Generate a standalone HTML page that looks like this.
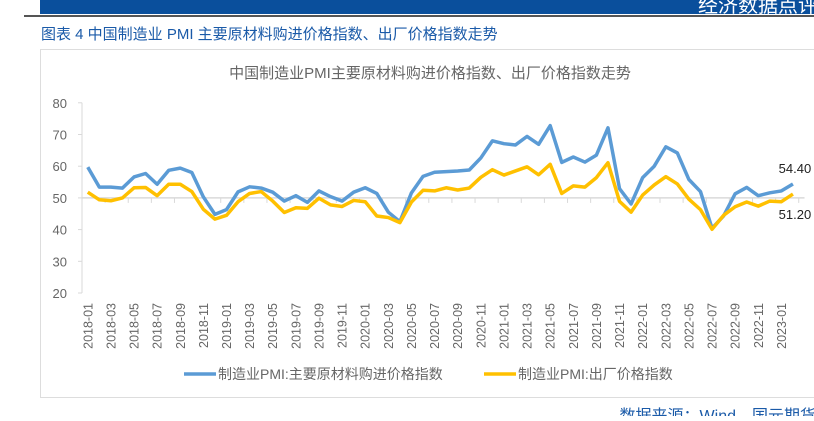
<!DOCTYPE html>
<html><head><meta charset="utf-8"><style>
body{margin:0;width:814px;height:416px;background:#fff;overflow:hidden;font-family:"Liberation Sans","Noto Sans CJK SC",sans-serif;}
</style></head><body>
<svg width="814" height="416" xmlns="http://www.w3.org/2000/svg" font-family="Liberation Sans, Noto Sans CJK SC, sans-serif">
<rect x="40" y="0" width="774" height="14" fill="#0a4f9c"/>
<text x="818" y="12" font-size="20" fill="#fff" text-anchor="end">经济数据点评</text>
<rect x="24" y="15" width="790" height="2" fill="#555"/>
<text x="41" y="39" font-size="15" fill="#1a5aa8">图表 4  中国制造业 PMI 主要原材料购进价格指数、出厂价格指数走势</text>
<rect x="40.5" y="49.5" width="790" height="348" fill="none" stroke="#ddd"/>
<text x="430" y="78" font-size="15" fill="#666" text-anchor="middle">中国制造业PMI主要原材料购进价格指数、出厂价格指数走势</text>
<g id="plot"></g>
<g>
<line x1="184" y1="374" x2="216" y2="374" stroke="#5b9bd5" stroke-width="3.5"/>
<text x="218" y="379" font-size="14" fill="#666">制造业PMI:主要原材料购进价格指数</text>
<line x1="484" y1="374" x2="516" y2="374" stroke="#ffc000" stroke-width="3.5"/>
<text x="518" y="379" font-size="14" fill="#666">制造业PMI:出厂价格指数</text>
</g>
<text x="816" y="421" font-size="16" fill="#1a5aa8" text-anchor="end">数据来源：Wind，国元期货</text>
</svg>
<script>
const inputPrice=[59.7,53.4,53.4,53.1,56.6,57.7,54.3,58.7,59.4,58.0,50.3,44.8,46.3,51.9,53.5,53.1,51.8,49.0,50.7,48.6,52.2,50.4,49.0,51.8,53.2,51.4,45.5,42.5,51.6,56.8,58.1,58.3,58.5,58.8,62.6,68.0,67.1,66.7,69.4,66.9,72.8,61.2,62.9,61.3,63.5,72.1,52.9,48.1,56.4,60.0,66.1,64.2,55.8,52.0,40.4,44.3,51.3,53.3,50.7,51.6,52.2,54.4];
const outputPrice=[51.8,49.4,49.1,50.0,53.2,53.3,50.7,54.3,54.3,52.0,46.4,43.3,44.5,48.8,51.4,52.0,49.0,45.4,46.9,46.7,49.9,47.8,47.3,49.2,48.8,44.3,43.8,42.2,48.7,52.4,52.2,53.2,52.5,53.1,56.5,58.9,57.2,58.5,59.8,57.3,60.6,51.4,53.8,53.4,56.4,61.1,48.9,45.5,50.9,54.1,56.7,54.4,49.6,46.3,40.1,44.5,47.2,48.7,47.4,49.0,48.8,51.2];
const yTicks=[20,30,40,50,60,70,80];
const startYear=2018,startMonth=1;
const NS='http://www.w3.org/2000/svg';
const g=document.getElementById('plot');
const X0=82,W=11.56,Y20=293,PER=3.17;
const x=i=>X0+(i+0.5)*W;
const y=v=>Y20-(v-20)*PER;
function mk(t,a){const e=document.createElementNS(NS,t);for(const k in a)e.setAttribute(k,a[k]);g.appendChild(e);return e;}
const yax=mk('line',{x1:X0,y1:y(80),x2:X0,y2:y(20),stroke:'#d9d9d9'});


const n=inputPrice.length;
const grid=mk('line',{x1:X0,y1:y(50),x2:X0+(n+0.5)*W,y2:y(50),stroke:'#d9d9d9','stroke-width':1.5});


yTicks.forEach(v=>{
 const t=mk('line',{x1:X0-4,y1:y(v),x2:X0,y2:y(v),stroke:'#d9d9d9'});
 
 
 const l=mk('text',{x:X0-15,y:y(v)+5,'font-size':13,fill:'#666','text-anchor':'end'});
 l.textContent=v;
 
 
});
for(let i=0;i<=n;i+=2){
 const t=mk('line',{x1:X0+i*W,y1:y(50),x2:X0+i*W,y2:y(50)+5,stroke:'#d9d9d9'});
 
 
}
for(let i=0;i<n;i+=2){
 const m=startMonth-1+i, yr=startYear+Math.floor(m/12), mo=m%12+1;
 const l=mk('text',{x:0,y:0,'font-size':12.5,fill:'#666','text-anchor':'end',transform:`translate(${x(i)+4.5},303) rotate(-90)`});
 l.textContent=yr+'-'+(mo<10?'0':'')+mo;
 
 
}
function line(arr,col,name){
 const p=mk('polyline',{points:arr.map((v,i)=>x(i)+','+y(v)).join(' '),fill:'none',stroke:col,'stroke-width':3.5,'stroke-linejoin':'round'});
 
 
}
line(inputPrice,'#5b9bd5','series-input-price');
line(outputPrice,'#ffc000','series-output-price');
const l1=mk('text',{x:x(n-1)+2,y:y(inputPrice[n-1])-11,'font-size':13,fill:'#222','text-anchor':'middle'});
l1.textContent=inputPrice[n-1].toFixed(2);


const l2=mk('text',{x:x(n-1)+2,y:y(outputPrice[n-1])+25,'font-size':13,fill:'#222','text-anchor':'middle'});
l2.textContent=outputPrice[n-1].toFixed(2);


</script>
</body></html>
